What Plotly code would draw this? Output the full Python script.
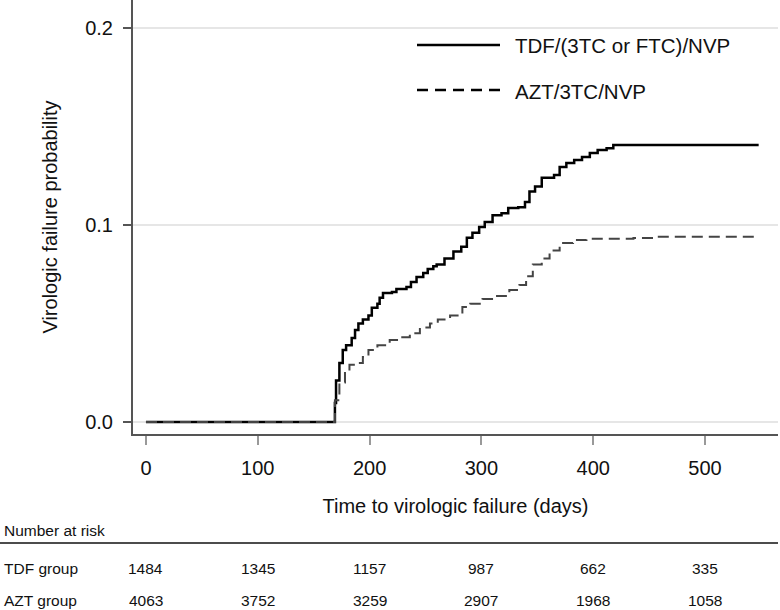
import plotly.graph_objects as go

# ---- data ----
tdf_days = [0, 168, 169, 170, 173, 176, 179, 184, 187, 190, 194, 199, 202, 207, 209, 212, 220,
            224, 233, 237, 242, 248, 252, 257, 260, 267, 275, 282, 287, 292, 298, 303, 310,
            318, 324, 333, 339, 343, 348, 354, 365, 370, 376, 383, 390, 397, 404, 412, 418, 548]
tdf_prob = [0.0, 0.0, 0.0096, 0.021, 0.030, 0.0365, 0.039, 0.0426, 0.0467, 0.050, 0.052,
            0.054, 0.058, 0.060, 0.063, 0.0655, 0.066, 0.0675, 0.0685, 0.071, 0.0736, 0.0756,
            0.0777, 0.079, 0.080, 0.083, 0.0865, 0.089, 0.0935, 0.096, 0.099, 0.1015, 0.105,
            0.106, 0.1086, 0.109, 0.1117, 0.117, 0.1195, 0.124, 0.1254, 0.1294, 0.1315, 0.133,
            0.1345, 0.1365, 0.138, 0.139, 0.1406, 0.1406]

azt_days = [0, 168, 169, 173, 178, 182, 189, 194, 199, 207, 218, 227, 236, 245, 254, 261,
            272, 283, 290, 301, 314, 325, 334, 340, 346, 354, 361, 370, 382, 394, 436, 457, 546]
azt_prob = [0.0, 0.0, 0.011, 0.020, 0.026, 0.029, 0.030, 0.033, 0.0366, 0.039, 0.0416, 0.043,
            0.045, 0.048, 0.050, 0.052, 0.054, 0.0584, 0.060, 0.0624, 0.064, 0.067, 0.0695,
            0.0740, 0.080, 0.083, 0.087, 0.0908, 0.0924, 0.093, 0.0934, 0.094, 0.094]

series_names = ["TDF/(3TC or FTC)/NVP", "AZT/3TC/NVP"]
x_ticks = [0, 100, 200, 300, 400, 500]
y_ticks = [0.0, 0.1, 0.2]
y_tick_labels = ["0.0", "0.1", "0.2"]
risk_labels = ["TDF group", "AZT group"]
tdf_at_risk = [1484, 1345, 1157, 987, 662, 335]
azt_at_risk = [4063, 3752, 3259, 2907, 1968, 1058]

FONT = "Liberation Sans, Arial, Helvetica, sans-serif"
W, H = 780, 610
ML, MR, MT, MB = 133, 2, 0, 176
PW, PH = W - ML - MR, H - MT - MB


def px(xp):
    return (xp - ML) / PW


def py(yp):
    return (MT + PH - yp) / PH


fig = go.Figure()
fig.add_trace(go.Scatter(x=tdf_days, y=tdf_prob, mode="lines", line_shape="hv",
                         name=series_names[0], line=dict(color="#000000", width=2.5),
                         showlegend=False))
fig.add_trace(go.Scatter(x=azt_days, y=azt_prob, mode="lines", line_shape="hv",
                         name=series_names[1],
                         line=dict(color="#444444", width=2, dash="11px,6px"),
                         showlegend=False))

shapes = []
annotations = []

# manual legend
leg = [(45, dict(color="#000000", width=2.5)),
       (90, dict(color="#000000", width=2.5, dash="11px,7px"))]
for (yl, ln), name in zip(leg, series_names):
    shapes.append(dict(type="line", xref="paper", yref="paper",
                       x0=px(417), x1=px(500), y0=py(yl), y1=py(yl), line=ln))
    annotations.append(dict(text=name, xref="paper", yref="paper", x=px(513),
                            y=py(yl + 1), xanchor="left", yanchor="middle",
                            showarrow=False, font=dict(size=20.5, color="#111111", family=FONT)))

# number-at-risk table
annotations.append(dict(text="Number at risk", xref="paper", yref="paper", x=px(2), y=py(530),
                        xanchor="left", yanchor="middle", showarrow=False,
                        font=dict(size=15.5, color="#111111", family=FONT)))
shapes.append(dict(type="line", xref="paper", yref="paper", x0=px(0), x1=px(778),
                   y0=py(543), y1=py(543), line=dict(color="#111111", width=1.5)))
for label, vals, yrow in [(risk_labels[0], tdf_at_risk, 568), (risk_labels[1], azt_at_risk, 600)]:
    annotations.append(dict(text=label, xref="paper", yref="paper", x=px(2), y=py(yrow),
                            xanchor="left", yanchor="middle", showarrow=False,
                            font=dict(size=15.5, color="#111111", family=FONT)))
    for xv, v in zip(x_ticks, vals):
        annotations.append(dict(text=str(v), xref="x", yref="paper", x=xv, y=py(yrow),
                                xanchor="center", yanchor="middle", showarrow=False,
                                font=dict(size=15.5, color="#111111", family=FONT)))

fig.update_layout(
    width=W, height=H,
    margin=dict(l=ML, r=MR, t=MT, b=MB, pad=0),
    paper_bgcolor="white", plot_bgcolor="white",
    font=dict(family=FONT, size=20, color="#111111"),
    shapes=shapes, annotations=annotations,
    showlegend=False,
)
fig.update_xaxes(
    range=[-11.6, 565.3], tickvals=x_ticks, ticktext=[str(t) for t in x_ticks],
    showgrid=False, zeroline=False,
    showline=True, linecolor="#555555", linewidth=2,
    ticks="outside", ticklen=9, tickwidth=1.5, tickcolor="#999999",
    ticklabelstandoff=6,
    tickfont=dict(size=20, color="#111111", family=FONT),
    title=dict(text="Time to virologic failure (days)", standoff=21,
               font=dict(size=20, color="#111111", family=FONT)),
)
fig.update_yaxes(
    range=[-0.0061, 0.2142], tickvals=y_ticks, ticktext=y_tick_labels,
    showgrid=True, gridcolor="#e6e6e6", gridwidth=2, zeroline=False,
    showline=True, linecolor="#555555", linewidth=2,
    ticks="outside", ticklen=8, tickwidth=1.5, tickcolor="#555555",
    ticklabelstandoff=6,
    tickfont=dict(size=20, color="#111111", family=FONT),
    title=dict(text="Virologic failure probability", standoff=22,
               font=dict(size=20, color="#111111", family=FONT)),
)

fig.write_html("out.html", config={"displayModeBar": False},
               post_script="document.body.style.margin='0';document.body.style.overflow='hidden';")
